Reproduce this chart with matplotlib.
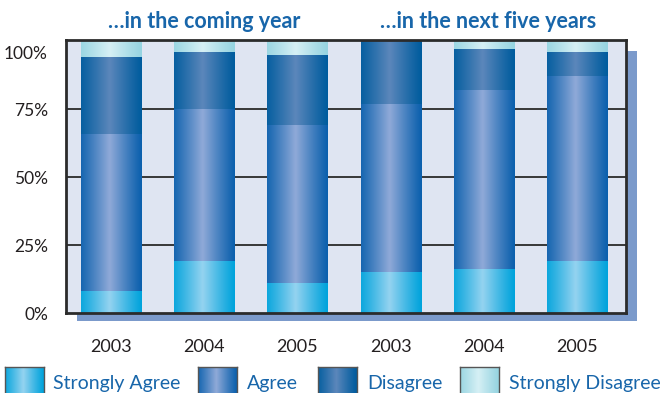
import numpy as np
import matplotlib
matplotlib.use('Agg')
import matplotlib.pyplot as plt
from matplotlib.patches import Rectangle
from matplotlib.transforms import ScaledTranslation

plt.rcParams['font.family'] = ['Lato', 'DejaVu Sans']

# Survey answers per year, percent of respondents
years = ['2003', '2004', '2005', '2003', '2004', '2005']
strongly_agree = [8, 19, 11, 15, 16, 19]
agree = [58, 56, 58, 62, 66, 68]
disagree = [28, 21, 26, 23, 15, 9]
strongly_disagree = [6, 4, 5, 0, 3, 4]
series_names = ['Strongly Agree', 'Agree', 'Disagree', 'Strongly Disagree']
group_titles = ['\u2026in the coming year', '\u2026in the next five years']
y_ticks = [0, 25, 50, 75, 100]

# (edge colour, centre colour) of the horizontal gradient of each series
shades = [('#00a3dc', '#95d3f0'),
          ('#0b60ad', '#90aad8'),
          ('#005c9e', '#5c87bb'),
          ('#96d4e1', '#d6f0f5')]

W, H = 660, 393
fig = plt.figure(figsize=(W / 100, H / 100), dpi=100)


def fx(px):
    return px / W


def fy(py):
    return 1 - py / H


def gradient(edge, centre, n=64):
    t = np.linspace(0, 1, n)
    w = np.clip(1 - np.abs(t - 0.47) / 0.53, 0, 1) ** 1.1
    e = np.array(matplotlib.colors.to_rgb(edge))
    c = np.array(matplotlib.colors.to_rgb(centre))
    row = e[None, :] * (1 - w[:, None]) + c[None, :] * w[:, None]
    return row[None, :, :]


# drop shadow behind the plot frame
fig.patches.append(Rectangle((fx(77), fy(321)), fx(637 - 77), (321 - 51) / H,
                             transform=fig.transFigure, facecolor='#7b9acb',
                             edgecolor='none', zorder=-1))

ax = fig.add_axes([fx(66), fy(313), fx(626 - 66), (313 - 40) / H])
ax.set_facecolor('#dfe5f2')

x = np.arange(len(years))
bar_w = 0.644
bottom = np.zeros(len(years))
for vals, (edge, centre) in zip([strongly_agree, agree, disagree, strongly_disagree], shades):
    bars = ax.bar(x, vals, bottom=bottom, width=bar_w, color='none', edgecolor='none', zorder=2)
    grad = gradient(edge, centre)
    for b, v in zip(bars, vals):
        if v <= 0:
            continue
        im = ax.imshow(grad, extent=[b.get_x(), b.get_x() + b.get_width(),
                                     b.get_y(), b.get_y() + b.get_height()],
                       aspect='auto', interpolation='bilinear', zorder=2)
        im.set_clip_path(b)
    bottom += np.array(vals)

ax.set_xlim(-0.483, 5.526)
ax.set_ylim(0, 100.4)

for g in [25, 50, 75]:
    ax.axhline(g, color='#2a2a2a', lw=1.3, zorder=1)

ax.set_yticks(y_ticks)
ax.set_yticklabels([f'{t}%' for t in y_ticks])
ax.set_xticks(x)
ax.set_xticklabels(years)
ax.tick_params(axis='both', length=0, labelsize=12.5, labelcolor='#231f20')
ax.tick_params(axis='y', pad=13)
ax.tick_params(axis='x', pad=19, labelsize=13)
# the top label sits a bit lower in the original
top_lab = ax.get_yticklabels()[-1]
top_lab.set_transform(top_lab.get_transform() + ScaledTranslation(0, -11 / 100, fig.dpi_scale_trans))

for s in ax.spines.values():
    s.set_color('#2b2b2b')
    s.set_linewidth(2)

# group headings
fig.text(fx(204), fy(21), group_titles[0], ha='center', va='center',
         fontsize=15.5, fontweight='bold', color='#1866aa')
fig.text(fx(488), fy(21), group_titles[1], ha='center', va='center',
         fontsize=15.5, fontweight='bold', color='#1866aa')

# hand-made legend with gradient swatches
swatch_x = [5, 198, 318, 460]
text_x = [53, 247, 367, 509]
for sx, tx, name, (edge, centre) in zip(swatch_x, text_x, series_names, shades):
    sax = fig.add_axes([fx(sx), fy(400), fx(39), (400 - 367) / H])
    sax.imshow(gradient(edge, centre), aspect='auto', interpolation='bilinear')
    sax.set_xticks([])
    sax.set_yticks([])
    for s in sax.spines.values():
        s.set_color('#555555')
        s.set_linewidth(1)
    fig.text(fx(tx), fy(389), name, ha='left', va='baseline',
             fontsize=14, color='#1866aa')

fig.savefig('out.png', dpi=100)
